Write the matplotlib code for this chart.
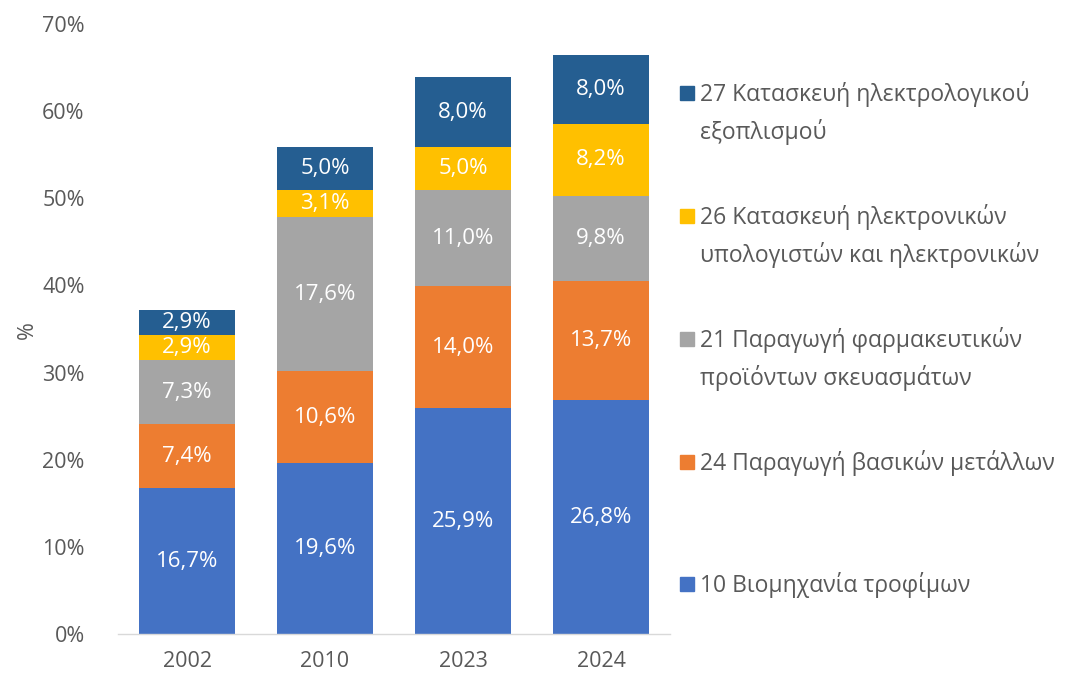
import matplotlib
matplotlib.use("Agg")
import matplotlib.pyplot as plt
from matplotlib.patches import Rectangle
import numpy as np

plt.rcParams['font.family'] = ['Open Sans', 'DejaVu Sans']

years = ["2002", "2010", "2023", "2024"]
food = [16.7, 19.6, 25.9, 26.8]
metals = [7.4, 10.6, 14.0, 13.7]
pharma = [7.3, 17.6, 11.0, 9.8]
computers = [2.9, 3.1, 5.0, 8.2]
electrical = [2.9, 5.0, 8.0, 8.0]

series = [
    ("10 Βιομηχανία τροφίμων", food, "#4472C4"),
    ("24 Παραγωγή βασικών μετάλλων", metals, "#ED7D31"),
    ("21 Παραγωγή φαρμακευτικών\nπροϊόντων σκευασμάτων", pharma, "#A5A5A5"),
    ("26 Κατασκευή ηλεκτρονικών\nυπολογιστών και ηλεκτρονικών", computers, "#FFC000"),
    ("27 Κατασκευή ηλεκτρολογικού\nεξοπλισμού", electrical, "#255E91"),
]

W, H = 1069, 677
fig = plt.figure(figsize=(W / 100, H / 100), dpi=100)
ax = fig.add_axes([118 / W, 1 - 634 / H, (670 - 118) / W, (634 - 24) / H])

x = np.arange(len(years))
bottom = np.zeros(len(years))
grey = "#595959"
for label, vals, col in series:
    vals = np.array(vals)
    ax.bar(x, vals, width=0.7, bottom=bottom, color=col, label=label)
    for xi, b, v in zip(x, bottom, vals):
        ax.text(xi, b + v / 2, f"{v:.1f}%".replace(".", ","), ha="center", va="center",
                color="white", fontsize=16)
    bottom += vals

ax.set_xlim(-0.5, len(years) - 0.5)
ax.set_ylim(0, 70)
ax.set_yticks(np.arange(0, 71, 10))
ax.set_yticklabels([f"{t}%" for t in range(0, 71, 10)])
ax.set_xticks(x)
ax.set_xticklabels(years)
ax.tick_params(axis="both", length=0, labelsize=15.5, colors=grey)
ax.tick_params(axis="y", pad=24)
ax.tick_params(axis="x", pad=12)
for s in ["top", "right", "left"]:
    ax.spines[s].set_visible(False)
ax.spines["bottom"].set_color("#D9D9D9")
ax.spines["bottom"].set_linewidth(1)

fig.text(27 / W, 1 - 330 / H, "%", rotation=90, ha="center", va="center", fontsize=15.5, color=grey)

# legend (manual)
legend_y = [93, 216, 339, 462, 584]
for (label, vals, col), yy in zip(series[::-1], legend_y):
    fig.patches.append(Rectangle((680 / W, 1 - (yy + 7) / H), 14 / W, 14 / H,
                                 transform=fig.transFigure, color=col))
    fig.text(700 / W, 1 - (yy - 12) / H, label, ha="left", va="top", fontsize=16.5,
             color=grey, linespacing=1.62)

fig.savefig("out.png", dpi=100)
